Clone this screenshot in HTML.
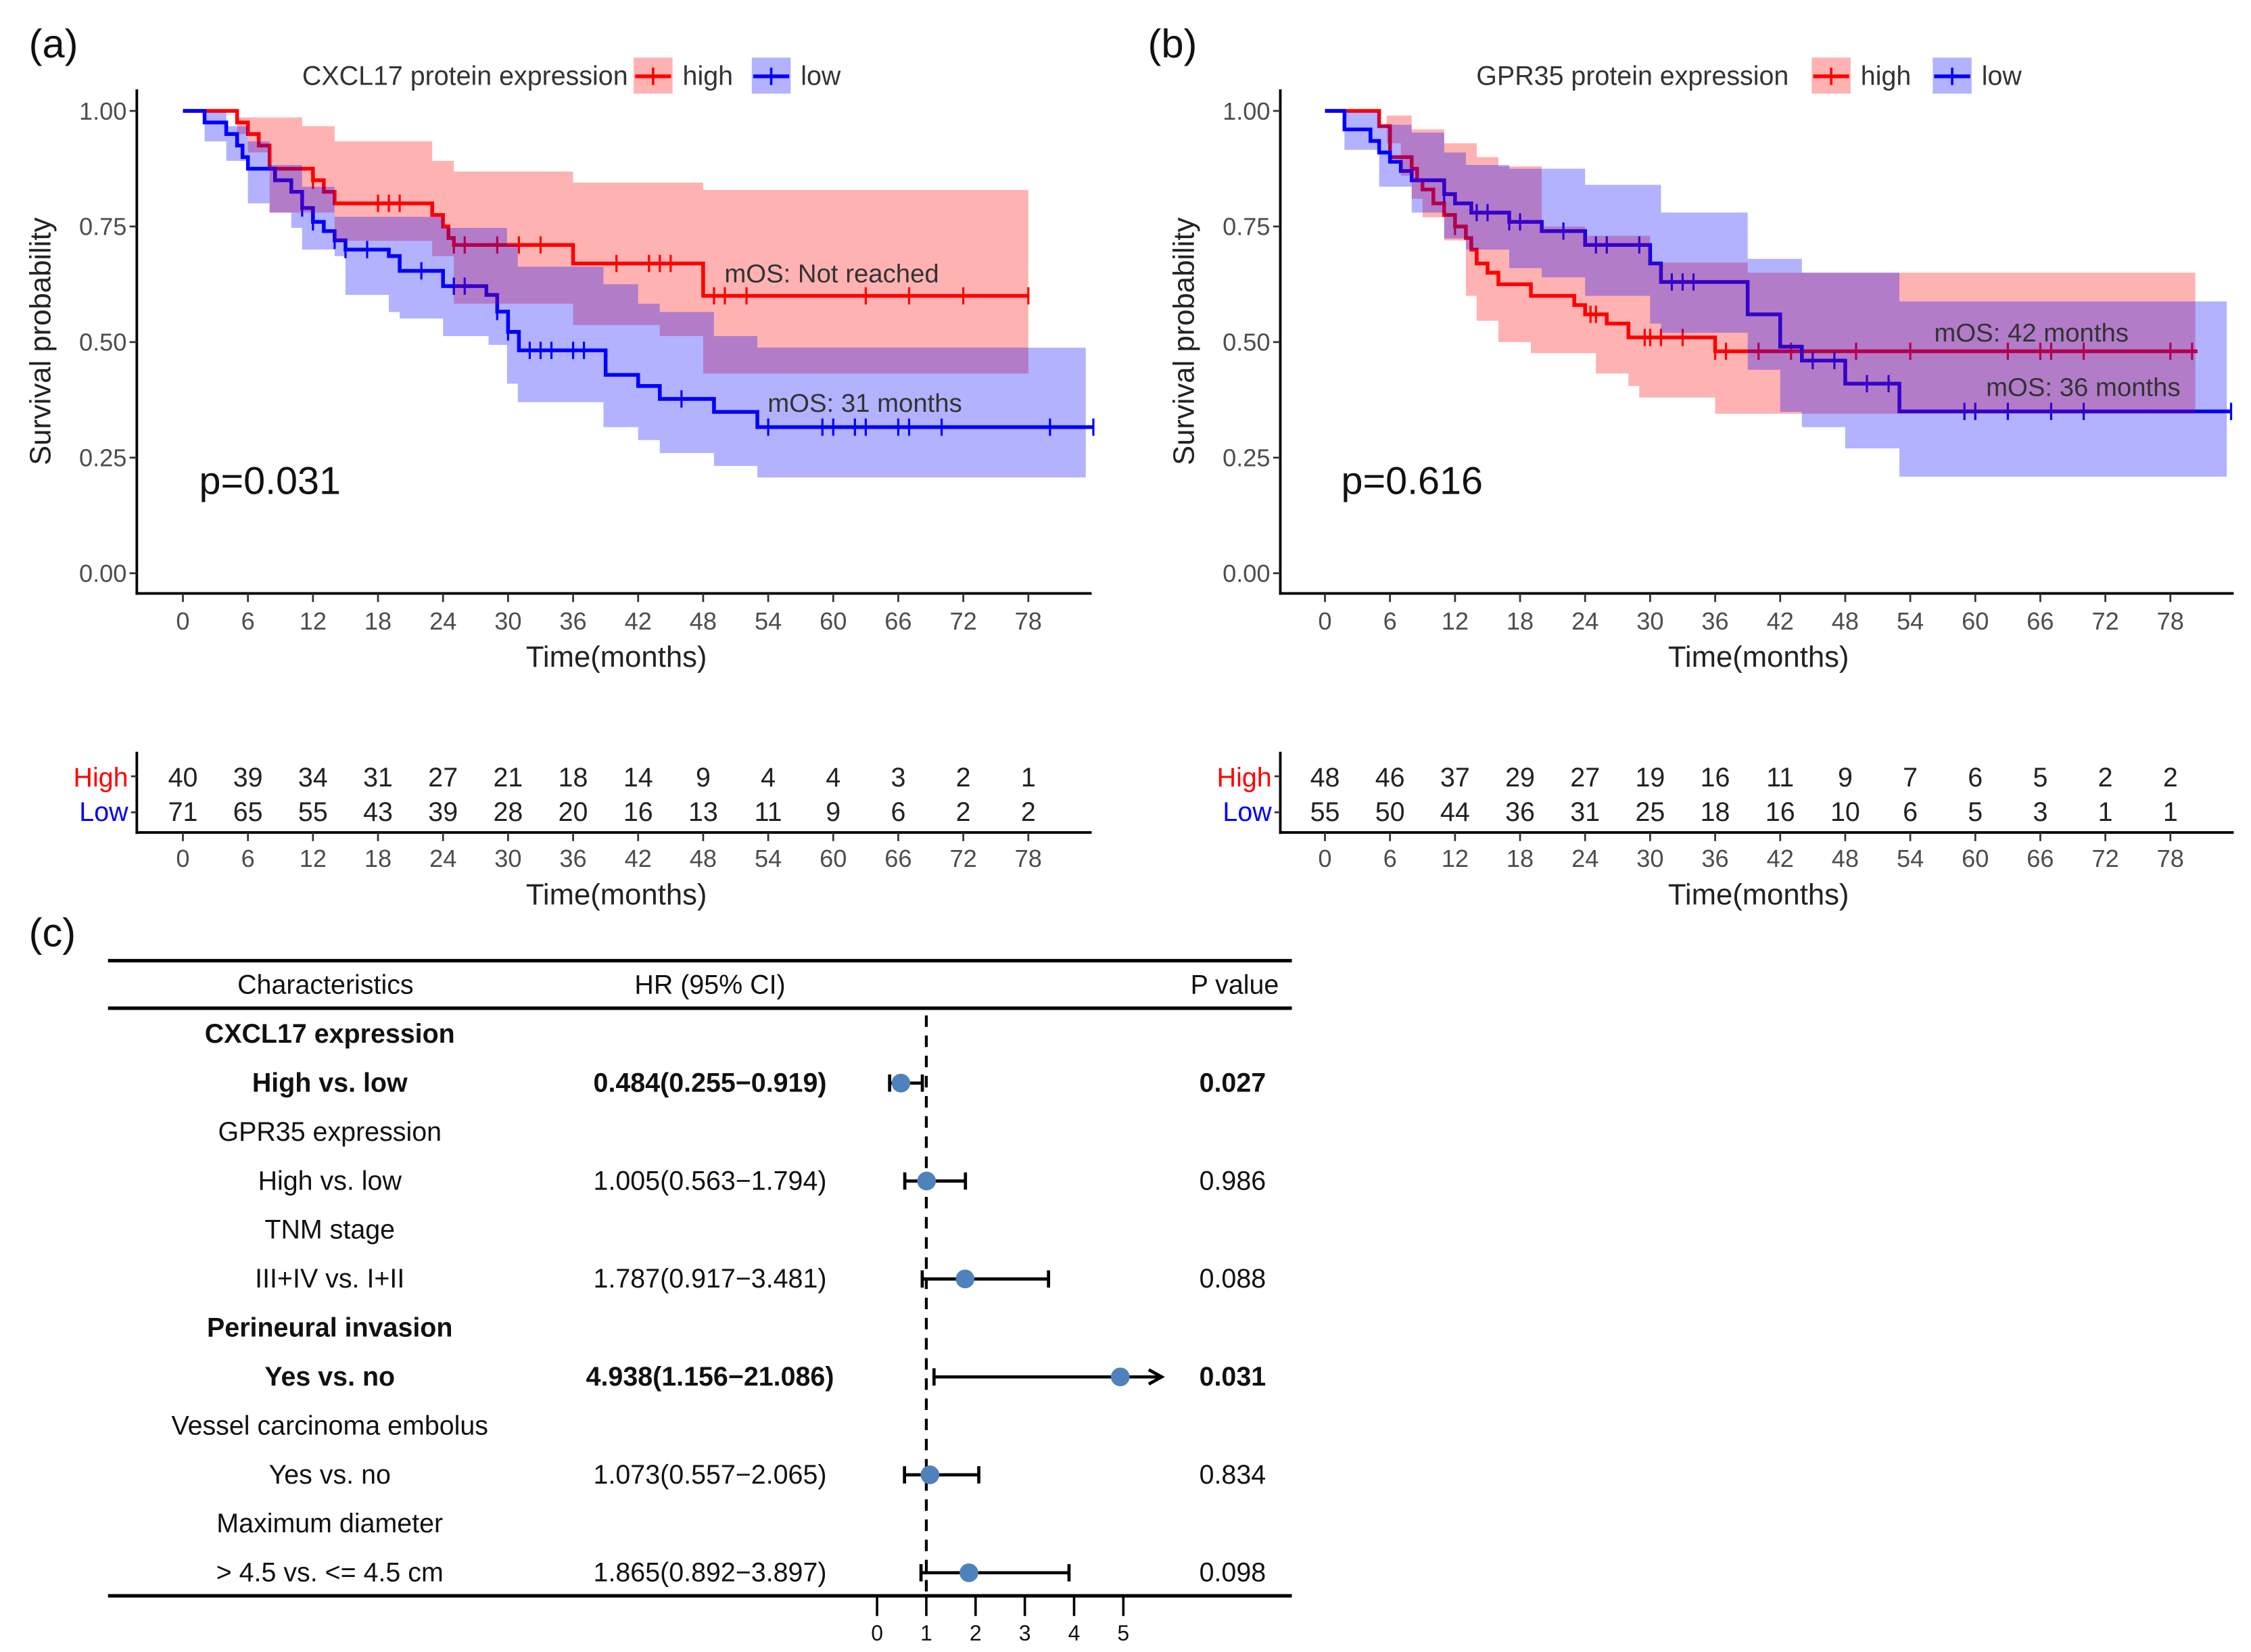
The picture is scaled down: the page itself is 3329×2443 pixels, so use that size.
<!DOCTYPE html>
<html><head><meta charset="utf-8"><style>
html,body{margin:0;padding:0;background:#fff;}
svg{display:block;font-family:"Liberation Sans",Arial,sans-serif;}
</style></head><body>
<svg id="fig" width="3329" height="2443" viewBox="0 0 1563 1147" xmlns="http://www.w3.org/2000/svg">
<rect width="1563" height="1147" fill="#fff"/>
</svg>
<script>
// ---------- Panel a data ----------
const A_high_t=[0,5,6,7,8,12,13,14,23,24,24.5,25,36,48];
const A_high_s=[1,.975,.95,.925,.875,.85,.825,.80,.775,.75,.725,.71,.67,.60];
const A_high_end=78;
const A_high_cens=[12,18,19,20,25,26,29,31,33,40,43,44,45,49,50,52,63,67,72,78];
const A_high_ci_t=[0,5,6,8,11,14,23,25,36,44,48];
const A_high_ci_up=[1,.986,.986,.986,.967,.934,.892,.869,.845,.845,.829];
const A_high_ci_lo=[1,.95,.91,.78,.78,.719,.686,.583,.537,.513,.432];
const A_high_ci_end=78;
const A_low_t=[0,2,4,5,5.5,6,8.5,10,11,12,13,14,15,19,20,24,28,29,30,31,39,42,44,49,53];
const A_low_s=[1,.975,.95,.925,.9,.875,.85,.825,.79,.76,.74,.72,.70,.686,.654,.621,.602,.566,.522,.482,.429,.405,.377,.349,.316];
const A_low_end=84;
const A_low_cens=[11,12,14,15,17,22,25,26,29,30,32,33,34,36,37,46,54,59,60,62,63,66,67,70,80,84];
const A_low_ci_t=[0,2,4,6,8,10,11,14,15,19,20,24,28.2,29.9,30.9,38.8,42,44,49,53];
const A_low_ci_up=[1,.997,.967,.934,.883,.883,.836,.771,.771,.771,.771,.747,.747,.71,.663,.625,.583,.565,.513,.488];
const A_low_ci_lo=[1,.934,.892,.80,.78,.747,.70,.686,.602,.565,.551,.513,.494,.41,.37,.316,.288,.26,.232,.207];
const A_low_ci_end=83.3;
const A_risk_high=[40,39,34,31,27,21,18,14,9,4,4,3,2,1];
const A_risk_low=[71,65,55,43,39,28,20,16,13,11,9,6,2,2];
// ---------- Panel b data ----------
const B_high_t=[0,5,6,8,8.5,9,10,11,12,13,13.5,14,15,16,19,23,24,26,28,36];
const B_high_s=[1,.967,.90,.875,.85,.83,.80,.775,.75,.725,.70,.67,.65,.625,.60,.58,.56,.54,.51,.48];
const B_high_end=80.5;
const B_high_cens=[12,24.5,25,29.5,30,31,33,36,37,40,43,49,54,63,66,67,70,78,80];
const B_high_ci_t=[0,5.7,7,8,9,11,13,14,16,19,20,24,25,28,29,30,36,39];
const B_high_ci_up=[1,.99,.99,.96,.96,.93,.93,.90,.88,.88,.75,.73,.73,.73,.73,.672,.672,.65];
const B_high_ci_lo=[1,.93,.86,.81,.77,.72,.60,.546,.50,.476,.476,.476,.432,.405,.38,.38,.345,.345];
const B_high_ci_end=80.3;
const B_low_t=[0,1.8,4.2,5,6,7,8,11,12,13.5,17,20,24,30,31,39,42,44,48,53];
const B_low_s=[1,.96,.935,.91,.89,.87,.85,.82,.80,.78,.76,.74,.71,.67,.63,.56,.49,.46,.41,.35];
const B_low_end=83.6;
const B_low_cens=[11,14,15,17,18,22,25,26,29,32,33,34,45,47,50,52,59,60,63,67,70,83.6];
const B_low_ci_t=[0,1.8,5,8,11,13,17,20,24,30,31,39,42,44,48,53];
const B_low_ci_up=[1,.997,.97,.953,.91,.883,.875,.875,.84,.84,.78,.68,.68,.65,.65,.588];
const B_low_ci_lo=[1,.916,.836,.78,.724,.70,.66,.64,.60,.54,.52,.44,.349,.316,.27,.209];
const B_low_ci_end=83.2;
const B_risk_high=[48,46,37,29,27,19,16,11,9,7,6,5,2,2];
const B_risk_low=[55,50,44,36,31,25,18,16,10,6,5,3,1,1];
// ---------- shared ticks ----------
const xTicks=[0,6,12,18,24,30,36,42,48,54,60,66,72,78];
const yTicks=[0,0.25,0.5,0.75,1];
const yTickLabels=["0.00","0.25","0.50","0.75","1.00"];
// ---------- Forest data ----------
const F_rowLabels=["CXCL17 expression","High vs. low","GPR35 expression","High vs. low","TNM stage","III+IV vs. I+II","Perineural invasion","Yes vs. no","Vessel carcinoma embolus","Yes vs. no","Maximum diameter","> 4.5 vs. <= 4.5 cm"];
const F_bold=[1,1,0,0,0,0,1,1,0,0,0,0];
const F_hrText=["","0.484(0.255\u22120.919)","","1.005(0.563\u22121.794)","","1.787(0.917\u22123.481)","","4.938(1.156\u221221.086)","","1.073(0.557\u22122.065)","","1.865(0.892\u22123.897)"];
const F_pText=["","0.027","","0.986","","0.088","","0.031","","0.834","","0.098"];
const F_hr=[null,0.484,null,1.005,null,1.787,null,4.938,null,1.073,null,1.865];
const F_lo=[null,0.255,null,0.563,null,0.917,null,1.156,null,0.557,null,0.892];
const F_hi=[null,0.919,null,1.794,null,3.481,null,21.086,null,2.065,null,3.897];
const F_ticks=[0,1,2,3,4,5];
const F_max=5.75;

const NS="http://www.w3.org/2000/svg";
const svg=document.getElementById('fig');
function el(tag,attrs,parent,text){
  const e=document.createElementNS(NS,tag);
  for(const k in attrs)e.setAttribute(k,attrs[k]);
  if(text!==undefined)e.textContent=text;
  (parent||svg).appendChild(e);return e;
}
function stepPath(t,s,end,X,Y){
  let d='M'+X(t[0])+' '+Y(s[0]);
  for(let i=1;i<t.length;i++){d+=' H'+X(t[i])+' V'+Y(s[i]);}
  d+=' H'+X(end);return d;
}
function ribbon(t,up,lo,end,X,Y){
  let d='M'+X(t[0])+' '+Y(up[0]);
  for(let i=1;i<t.length;i++){d+=' H'+X(t[i])+' V'+Y(up[i]);}
  d+=' H'+X(end)+' V'+Y(lo[lo.length-1]);
  for(let i=t.length-1;i>=1;i--){d+=' H'+X(t[i])+' V'+Y(lo[i-1]);}
  d+=' H'+X(t[0])+' Z';return d;
}
function sAt(t,s,x){let v=s[0];for(let i=0;i<t.length;i++){if(t[i]<=x)v=s[i];}return v;}

function panel(cfg){
  const x0=cfg.x0, X=m=>x0+m*7.526, Y=v=>398-v*321;
  const g=el('g',{});
  
  
  const pl=el('text',{x:cfg.letterX,y:40,'font-size':28,fill:'#111'},g,cfg.letter);
  
  const lg=el('g',{},g);
  
  el('text',{x:cfg.legTitleEnd,y:59,'font-size':18.5,fill:'#333','text-anchor':'end'},lg,cfg.legTitle);
  const keys=[[cfg.legKey1,'#ff0000','high'],[cfg.legKey2,'#0000ff','low']];
  keys.forEach(k=>{
    const kg=el('g',{},lg);
    
    el('rect',{x:k[0],y:40,width:27,height:25,fill:k[1],'fill-opacity':0.3},kg);
    el('line',{x1:k[0]+1,x2:k[0]+26,y1:53,y2:53,stroke:k[1],'stroke-width':2.6},kg);
    el('line',{x1:k[0]+13.5,x2:k[0]+13.5,y1:47,y2:59,stroke:k[1],'stroke-width':1.7},kg);
    el('text',{x:k[0]+34,y:59,'font-size':18.5,fill:'#333'},kg,k[2]);
  });
  const series=[['high','#ff0000',cfg.high],['low','#0000ff',cfg.low]];
  series.forEach(sr=>{
    const d=sr[2];
    const p=el('path',{d:stepPath(d.t,d.s,d.end,X,Y),fill:'none',stroke:sr[1],'stroke-width':2.6},g);
    
    const cg=el('g',{},g);
    
    d.cens.forEach(c=>{
      const cx=X(c),cy=Y(sAt(d.t,d.s,c));
      el('line',{x1:cx,x2:cx,y1:cy-6,y2:cy+6,stroke:sr[1],'stroke-width':1.5},cg);
    });
  });
  series.forEach(sr=>{
    const d=sr[2];
    const r=el('path',{d:ribbon(d.ct,d.cu,d.cl,d.cend,X,Y),fill:sr[1],'fill-opacity':0.3,stroke:'none'},g);
    
  });
  const ax=el('g',{},g);
  
  el('line',{x1:cfg.axL,x2:cfg.axL,y1:62,y2:413,stroke:'#000','stroke-width':1.8},ax);
  el('line',{x1:cfg.axL-0.9,x2:cfg.axR,y1:412,y2:412,stroke:'#000','stroke-width':1.8},ax);
  yTicks.forEach((v,i)=>{
    el('line',{x1:cfg.axL-5,x2:cfg.axL,y1:Y(v),y2:Y(v),stroke:'#333','stroke-width':1.3},ax);
    el('text',{x:cfg.axL-7,y:Y(v)+6,'font-size':17,fill:'#4d4d4d','text-anchor':'end'},ax,yTickLabels[i]);
  });
  xTicks.forEach(m=>{
    el('line',{x1:X(m),x2:X(m),y1:412,y2:418,stroke:'#333','stroke-width':1.3},ax);
    el('text',{x:X(m),y:437,'font-size':17,fill:'#4d4d4d','text-anchor':'middle'},ax,String(m));
  });
  const xt=el('text',{x:X(40),y:463,'font-size':20.5,fill:'#222','text-anchor':'middle'},ax,'Time(months)');
  
  const yt=el('text',{x:0,y:0,'font-size':20.5,fill:'#222','text-anchor':'middle',transform:'translate('+(cfg.axL-60)+',237) rotate(-90)'},ax,'Survival probability');
  
  const pv=el('text',{x:X(1.5),y:343,'font-size':27,fill:'#111'},g,cfg.pval);
  
  cfg.mos.forEach(mo=>{
    const t=el('text',{x:mo[0],y:mo[1],'font-size':18,fill:'#333'},g,mo[2]);
    
  });
  const rt=el('g',{},g);
  
  el('line',{x1:cfg.axL,x2:cfg.axL,y1:522,y2:579,stroke:'#000','stroke-width':1.8},rt);
  el('line',{x1:cfg.axL-0.9,x2:cfg.axR,y1:578,y2:578,stroke:'#000','stroke-width':1.8},rt);
  el('line',{x1:cfg.axL-4,x2:cfg.axL,y1:539,y2:539,stroke:'#333','stroke-width':1.3},rt);
  el('line',{x1:cfg.axL-4,x2:cfg.axL,y1:564,y2:564,stroke:'#333','stroke-width':1.3},rt);
  el('text',{x:cfg.axL-6,y:546,'font-size':18.5,fill:'#ff0000','text-anchor':'end'},rt,'High');
  el('text',{x:cfg.axL-6,y:570,'font-size':18.5,fill:'#0000ff','text-anchor':'end'},rt,'Low');
  xTicks.forEach((m,i)=>{
    el('text',{x:X(m),y:546,'font-size':18.5,fill:'#222','text-anchor':'middle'},rt,String(cfg.riskH[i]));
    el('text',{x:X(m),y:570,'font-size':18.5,fill:'#222','text-anchor':'middle'},rt,String(cfg.riskL[i]));
    el('line',{x1:X(m),x2:X(m),y1:578,y2:584,stroke:'#333','stroke-width':1.3},rt);
    el('text',{x:X(m),y:602,'font-size':17,fill:'#4d4d4d','text-anchor':'middle'},rt,String(m));
  });
  el('text',{x:X(40),y:628,'font-size':20.5,fill:'#222','text-anchor':'middle'},rt,'Time(months)');
}

panel({id:'panel-a',letter:'(a)',letterX:20,x0:127,axL:95,axR:758,
  legTitle:'CXCL17 protein expression',legTitleEnd:436,legKey1:440,legKey2:522,pval:'p=0.031',
  mos:[[503,196,'mOS: Not reached'],[533,286,'mOS: 31 months']],
  riskH:A_risk_high,riskL:A_risk_low,
  high:{t:A_high_t,s:A_high_s,end:A_high_end,cens:A_high_cens,ct:A_high_ci_t,cu:A_high_ci_up,cl:A_high_ci_lo,cend:A_high_ci_end},
  low:{t:A_low_t,s:A_low_s,end:A_low_end,cens:A_low_cens,ct:A_low_ci_t,cu:A_low_ci_up,cl:A_low_ci_lo,cend:A_low_ci_end}});
panel({id:'panel-b',letter:'(b)',letterX:797,x0:920,axL:889,axR:1551,
  legTitle:'GPR35 protein expression',legTitleEnd:1242,legKey1:1258,legKey2:1342,pval:'p=0.616',
  mos:[[1343,237,'mOS: 42 months'],[1379,275,'mOS: 36 months']],
  riskH:B_risk_high,riskL:B_risk_low,
  high:{t:B_high_t,s:B_high_s,end:B_high_end,cens:B_high_cens,ct:B_high_ci_t,cu:B_high_ci_up,cl:B_high_ci_lo,cend:B_high_ci_end},
  low:{t:B_low_t,s:B_low_s,end:B_low_end,cens:B_low_cens,ct:B_low_ci_t,cu:B_low_ci_up,cl:B_low_ci_lo,cend:B_low_ci_end}});

// ---------- Forest plot ----------
(function(){
  const FX=v=>609+v*34.2, RY=i=>718+i*34;
  const g=el('g',{});
  
  const pl=el('text',{x:20,y:657,'font-size':28,fill:'#111'},g,'(c)');
  
  el('line',{x1:75,x2:897,y1:667,y2:667,stroke:'#000','stroke-width':2.4},g);
  el('line',{x1:75,x2:897,y1:700,y2:700,stroke:'#000','stroke-width':2.4},g);
  el('line',{x1:75,x2:897,y1:1108,y2:1108,stroke:'#000','stroke-width':2.4},g);
  const hd=el('g',{},g);
  
  el('text',{x:226,y:690,'font-size':18.5,fill:'#111','text-anchor':'middle'},hd,'Characteristics');
  el('text',{x:493,y:690,'font-size':18.5,fill:'#111','text-anchor':'middle'},hd,'HR (95% CI)');
  el('text',{x:888,y:690,'font-size':18.5,fill:'#111','text-anchor':'end'},hd,'P value');
  const ref=el('line',{x1:FX(1),x2:FX(1),y1:705,y2:1108,stroke:'#000','stroke-width':2,'stroke-dasharray':'8,6'},g);
  
  F_rowLabels.forEach((lab,i)=>{
    const y=RY(i)+6;
    const fw=F_bold[i]?'bold':'normal';
    const t=el('text',{x:229,y:y,'font-size':18.5,fill:'#111','text-anchor':'middle','font-weight':fw},g,lab);
    
    if(F_hrText[i]){
      el('text',{x:493,y:y,'font-size':18.5,fill:'#111','text-anchor':'middle','font-weight':fw},g,F_hrText[i]);
      el('text',{x:879,y:y,'font-size':18.5,fill:'#111','text-anchor':'end','font-weight':fw},g,F_pText[i]);
    }
    if(F_hr[i]!==null){
      const eg=el('g',{},g);
      
      const yy=RY(i), hiC=Math.min(F_hi[i],F_max);
      el('line',{x1:FX(F_lo[i]),x2:FX(hiC),y1:yy,y2:yy,stroke:'#000','stroke-width':2.2},eg);
      el('line',{x1:FX(F_lo[i]),x2:FX(F_lo[i]),y1:yy-6,y2:yy+6,stroke:'#000','stroke-width':2.2},eg);
      if(F_hi[i]>F_max){
        el('path',{d:'M'+(FX(hiC)-8)+' '+(yy-5)+' L'+(FX(hiC)+1)+' '+yy+' L'+(FX(hiC)-8)+' '+(yy+5),fill:'none',stroke:'#000','stroke-width':2.2},eg);
      } else {
        el('line',{x1:FX(hiC),x2:FX(hiC),y1:yy-6,y2:yy+6,stroke:'#000','stroke-width':2.2},eg);
      }
      el('circle',{cx:FX(F_hr[i]),cy:yy,r:6.5,fill:'#4f81bd'},eg);
    }
  });
  const ax=el('g',{},g);
  
  F_ticks.forEach(v=>{
    el('line',{x1:FX(v),x2:FX(v),y1:1108,y2:1122,stroke:'#000','stroke-width':1.7},ax);
    el('text',{x:FX(v),y:1139,'font-size':15,fill:'#111','text-anchor':'middle'},ax,String(v));
  });
})();
</script>
</body></html>
